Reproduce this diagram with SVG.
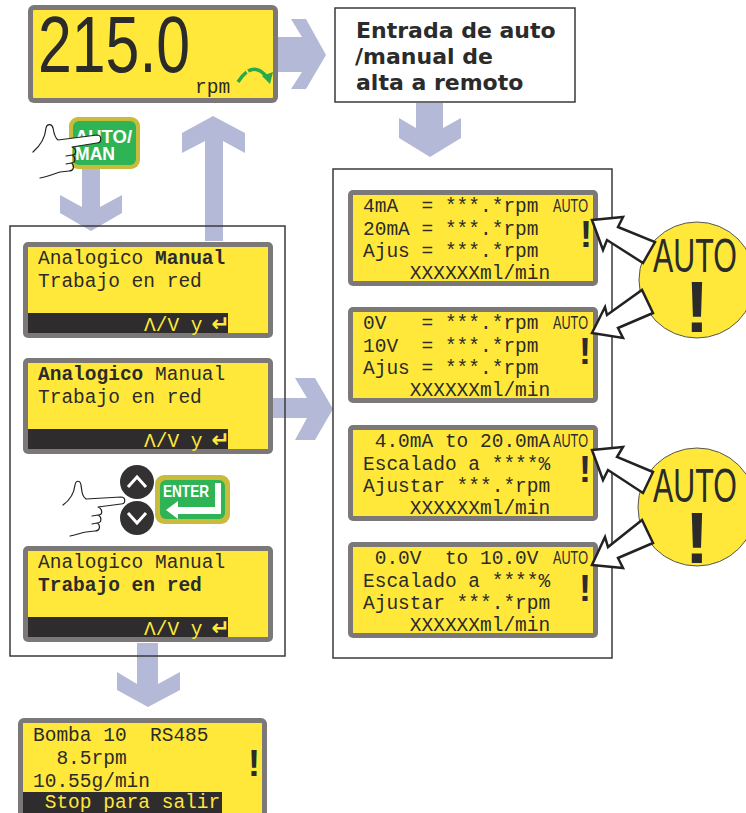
<svg xmlns="http://www.w3.org/2000/svg" width="746" height="813" viewBox="0 0 746 813">
  <style>
    .frame { fill: #7c7877; }
    .lcd { fill: #ffe83a; }
    .bar { fill: #2e2c2d; }
    .mono { font-family: "Liberation Mono", "DejaVu Sans Mono", monospace; font-size: 19.5px; fill: #2b2b2b; }
    .b { font-weight: bold; }
    .bartxt { fill: #ffe83a; }
    .ret { font-family: "DejaVu Sans", sans-serif; font-weight: bold; font-size: 22px; }
    .flow { fill: #b5b9d8; }
    .panel { fill: none; stroke: #3a3a3a; stroke-width: 1.5; }
    .tag { font-family: "Liberation Sans", Arial, sans-serif; font-size: 18px; fill: #2b2b2b; }
    .bang { font-family: "Liberation Sans", Arial, sans-serif; font-weight: bold; font-size: 36px; fill: #2b2b2b; text-anchor: middle; }
    .big { font-family: "Liberation Sans", Arial, sans-serif; font-size: 80px; fill: #2b2b2b; }
    .btn-rim { fill: #c9bb3c; }
    .btn-face { fill: #2fb455; }
    .btn-txt { font-family: "Liberation Sans", Arial, sans-serif; font-weight: bold; fill: #ffffff; }
    .hand { fill: none; stroke: #222; stroke-width: 1.2; stroke-linecap: round; stroke-linejoin: round; }
    .callout { fill: #ffffff; stroke: #222; stroke-width: 2.5; stroke-linejoin: miter; }
    .head { font-family: "DejaVu Sans", Verdana, sans-serif; font-weight: bold; font-size: 22px; fill: #2b2b2b; }
    .badge { fill: #ffe83a; stroke: #555; stroke-width: 1; }
    .badge-txt { font-family: "Liberation Sans", Arial, sans-serif; font-size: 49px; fill: #2b2b2b; text-anchor: middle; }
    .badge-bang { font-family: "Liberation Sans", Arial, sans-serif; font-weight: bold; font-size: 72px; fill: #2b2b2b; text-anchor: middle; }
  </style>

  <!-- flow arrows between screens -->
  <g id="connectors">
    <polygon class="flow" points="278,37 302,37 291,19 306,19 326,55 306,89 291,89 302,72 278,72"/>
    <polygon class="flow" points="416,103 443,103 443,128 461,118 461,138 430,157 399,138 399,118 416,128"/>
    <polygon class="flow" points="213,116 245,133 245,153 223,141 223,241 205,241 205,141 182,153 182,133"/>
    <polygon class="flow" points="82,169 100,169 100,207 122,195 122,213 91,231 60,213 60,195 82,207"/>
    <polygon class="flow" points="272,398 307,398 295,378 315,378 333,409 315,440 295,440 307,418 272,418"/>
    <polygon class="flow" points="137,643 158,643 158,684 180,672 180,690 148,707 117,690 117,672 137,684"/>
  </g>

  <!-- panel frames -->
  <g id="panel-menu"><rect class="panel" x="10" y="226" width="275" height="430"/></g>
  <g id="panel-remote"><rect class="panel" x="333" y="169" width="279" height="489"/></g>

  <!-- main speed display -->
  <g id="display-main">
    <rect class="frame" x="28" y="5" width="250" height="98" rx="6"/>
    <rect class="lcd" x="33" y="10" width="240" height="88" rx="1"/>
    <text class="big" transform="translate(38,72) scale(0.76,1)">215.0</text>
    <text class="mono" x="195" y="93">rpm</text>
    <path d="M238,82 Q252,60 266,76" fill="none" stroke="#2aa84a" stroke-width="3.5" stroke-dasharray="13 2 40"/>
    <polygon points="262,76 273,72 270,84" fill="#2aa84a"/>
  </g>

  <!-- remote input label -->
  <g id="label-remote">
    <rect x="335" y="8" width="240" height="94" fill="#ffffff" stroke="#3a3a3a" stroke-width="1.5"/>
    <text class="head" x="356" y="38">Entrada de auto</text>
    <text class="head" x="355" y="64">/manual de</text>
    <text class="head" x="356" y="90">alta a remoto</text>
  </g>

  <!-- AUTO/MAN key pressed by hand -->
  <g id="key-automan">
    <rect class="btn-rim" x="69" y="117" width="71" height="52" rx="9"/>
    <rect class="btn-face" x="73" y="121" width="63" height="44" rx="6"/>
    <text class="btn-txt" x="75" y="143" font-size="19" textLength="57" lengthAdjust="spacingAndGlyphs">AUTO/</text>
    <text class="btn-txt" x="75" y="160" font-size="19" textLength="40" lengthAdjust="spacingAndGlyphs">MAN</text>
    <path d="M56,140 L97,135 Q102,139 97,143 L72,147 L72,171 L58,172 L54,150 Z" fill="#ffffff"/>
    <path class="hand" d="M33,152 C40,146 45,139 46,128 C47,123 52,124 53,128 C54,134 55,138 58,140 L97,135 C102,135 102,143 97,143 L72,147 C77,149 77,155 72,155 L66,156 M72,155 C76,157 76,163 71,163 L66,164 M71,163 C75,165 74,171 69,171 L60,172 C53,174 47,177 40,178"/>
  </g>

  <!-- menu screen 1 -->
  <g id="lcd-menu-1">
    <rect class="frame" x="23" y="242" width="250" height="96" rx="5"/>
    <rect class="lcd" x="28" y="247" width="240" height="86"/>
    <rect class="bar" x="28" y="313" width="200" height="20"/>
    <text class="mono" x="38" y="264">Analogico <tspan class="b">Manual</tspan></text>
    <text class="mono" x="38" y="287">Trabajo en red</text>
    <text class="mono bartxt" x="144" y="331">Λ/V y <tspan class="ret" dx="-3">↵</tspan></text>
  </g>

  <!-- menu screen 2 -->
  <g id="lcd-menu-2">
    <rect class="frame" x="23" y="358" width="250" height="96" rx="5"/>
    <rect class="lcd" x="28" y="363" width="240" height="86"/>
    <rect class="bar" x="28" y="429" width="200" height="20"/>
    <text class="mono" x="38" y="380"><tspan class="b">Analogico</tspan> Manual</text>
    <text class="mono" x="38" y="403">Trabajo en red</text>
    <text class="mono bartxt" x="144" y="447">Λ/V y <tspan class="ret" dx="-3">↵</tspan></text>
  </g>

  <!-- arrow keys and ENTER -->
  <g id="keys-nav">
    <circle cx="137" cy="482" r="17" fill="#333132"/>
    <circle cx="137" cy="518" r="17" fill="#333132"/>
    <polyline points="128,487 137,477 146,487" fill="none" stroke="#ffffff" stroke-width="3"/>
    <polyline points="128,513 137,523 146,513" fill="none" stroke="#ffffff" stroke-width="3"/>
    <rect class="btn-rim" x="155" y="475" width="75" height="49" rx="9"/>
    <rect class="btn-face" x="160" y="480" width="65" height="39" rx="6"/>
    <text class="btn-txt" x="163" y="497" font-size="17" textLength="46" lengthAdjust="spacingAndGlyphs">ENTER</text>
    <polygon points="215,483 221,483 221,514 178,514 178,519 166,510 178,501 178,507 215,507" fill="#ffffff"/>
    <path d="M83,499 L121,497 Q126,500 121,504 L98,507 L98,531 L86,532 L80,505 Z" fill="#ffffff"/>
    <path class="hand" d="M63,505 C70,500 74,494 75,485 C76,480 80,480 81,485 C82,492 82,496 86,499 L121,497 C126,497 126,504 121,504 L98,507 C103,509 103,515 98,515 L92,516 M98,515 C102,517 102,523 97,523 L92,524 M97,523 C101,525 100,531 95,531 L86,532 C80,533 76,535 70,536"/>
  </g>

  <!-- menu screen 3 -->
  <g id="lcd-menu-3">
    <rect class="frame" x="23" y="546" width="250" height="96" rx="5"/>
    <rect class="lcd" x="28" y="551" width="240" height="86"/>
    <rect class="bar" x="28" y="617" width="200" height="20"/>
    <text class="mono" x="38" y="568">Analogico Manual</text>
    <text class="mono b" x="38" y="591">Trabajo en red</text>
    <text class="mono bartxt" x="144" y="635">Λ/V y <tspan class="ret" dx="-3">↵</tspan></text>
  </g>

  <!-- running screen -->
  <g id="lcd-run">
    <rect class="frame" x="18" y="718" width="249" height="102" rx="6"/>
    <rect class="lcd" x="23" y="723" width="239" height="97"/>
    <rect class="bar" x="23" y="792" width="199" height="28"/>
    <text class="mono" x="33" y="741" xml:space="preserve">Bomba 10  RS485</text>
    <text class="mono" x="33" y="764" xml:space="preserve">  8.5rpm</text>
    <text class="mono" x="33" y="787">10.55g/min</text>
    <text class="mono bartxt" x="33" y="808" xml:space="preserve"> Stop para salir</text>
    <text class="bang" x="254" y="776">!</text>
  </g>

  <!-- remote setting screens -->
  <g id="lcd-4-20ma">
    <rect class="frame" x="348" y="190" width="250" height="96" rx="5"/>
    <rect class="lcd" x="353" y="195" width="240" height="86"/>
    <text class="mono" x="363" y="212" xml:space="preserve">4mA  = ***.*rpm</text>
    <text class="mono" x="363" y="235" xml:space="preserve">20mA = ***.*rpm</text>
    <text class="mono" x="363" y="257" xml:space="preserve">Ajus = ***.*rpm</text>
    <text class="mono" x="363" y="279" xml:space="preserve">    XXXXXXml/min</text>
    <text class="tag" x="553" y="212" textLength="35" lengthAdjust="spacingAndGlyphs">AUTO</text>
    <text class="bang" x="586" y="247">!</text>
  </g>

  <g id="lcd-0-10v">
    <rect class="frame" x="348" y="307" width="250" height="96" rx="5"/>
    <rect class="lcd" x="353" y="312" width="240" height="86"/>
    <text class="mono" x="363" y="329" xml:space="preserve">0V   = ***.*rpm</text>
    <text class="mono" x="363" y="352" xml:space="preserve">10V  = ***.*rpm</text>
    <text class="mono" x="363" y="374" xml:space="preserve">Ajus = ***.*rpm</text>
    <text class="mono" x="363" y="396" xml:space="preserve">    XXXXXXml/min</text>
    <text class="tag" x="553" y="329" textLength="35" lengthAdjust="spacingAndGlyphs">AUTO</text>
    <text class="bang" x="585" y="364">!</text>
  </g>

  <g id="lcd-ma-scaled">
    <rect class="frame" x="348" y="425" width="250" height="96" rx="5"/>
    <rect class="lcd" x="353" y="430" width="240" height="86"/>
    <text class="mono" x="363" y="447" xml:space="preserve"> 4.0mA to 20.0mA</text>
    <text class="mono" x="363" y="470">Escalado a ****%</text>
    <text class="mono" x="363" y="492">Ajustar ***.*rpm</text>
    <text class="mono" x="363" y="514" xml:space="preserve">    XXXXXXml/min</text>
    <text class="tag" x="553" y="447" textLength="35" lengthAdjust="spacingAndGlyphs">AUTO</text>
    <text class="bang" x="585" y="482">!</text>
  </g>

  <g id="lcd-v-scaled">
    <rect class="frame" x="348" y="542" width="250" height="96" rx="5"/>
    <rect class="lcd" x="353" y="547" width="240" height="86"/>
    <text class="mono" x="363" y="564" xml:space="preserve"> 0.0V  to 10.0V</text>
    <text class="mono" x="363" y="587">Escalado a ****%</text>
    <text class="mono" x="363" y="609">Ajustar ***.*rpm</text>
    <text class="mono" x="363" y="631" xml:space="preserve">    XXXXXXml/min</text>
    <text class="tag" x="553" y="564" textLength="35" lengthAdjust="spacingAndGlyphs">AUTO</text>
    <text class="bang" x="585" y="601">!</text>
  </g>

  <!-- AUTO warning badges -->
  <g id="badge-auto-1">
    <circle class="badge" cx="697" cy="280" r="58"/>
    <text class="badge-txt" transform="translate(695,272) scale(0.62,1)">AUTO</text>
    <text class="badge-bang" x="697" y="332">!</text>
  </g>
  <g id="badge-auto-2">
    <circle class="badge" cx="697" cy="507" r="59"/>
    <text class="badge-txt" transform="translate(695,502) scale(0.62,1)">AUTO</text>
    <text class="badge-bang" x="697" y="563">!</text>
  </g>

  <!-- outlined pointers from the badges to the screens -->
  <g id="callouts">
    <polygon class="callout" points="592,220 623,217 618,227 655,242 643,263 607,240 603,250"/>
    <polygon class="callout" points="592,333 623,338 618,328 653,313 642,290 607,315 605,307"/>
    <polygon class="callout" points="592,450 623,447 617,457 653,472 643,493 608,470 603,480"/>
    <polygon class="callout" points="592,565 623,568 618,558 653,543 642,520 608,547 605,537"/>
  </g>
</svg>
